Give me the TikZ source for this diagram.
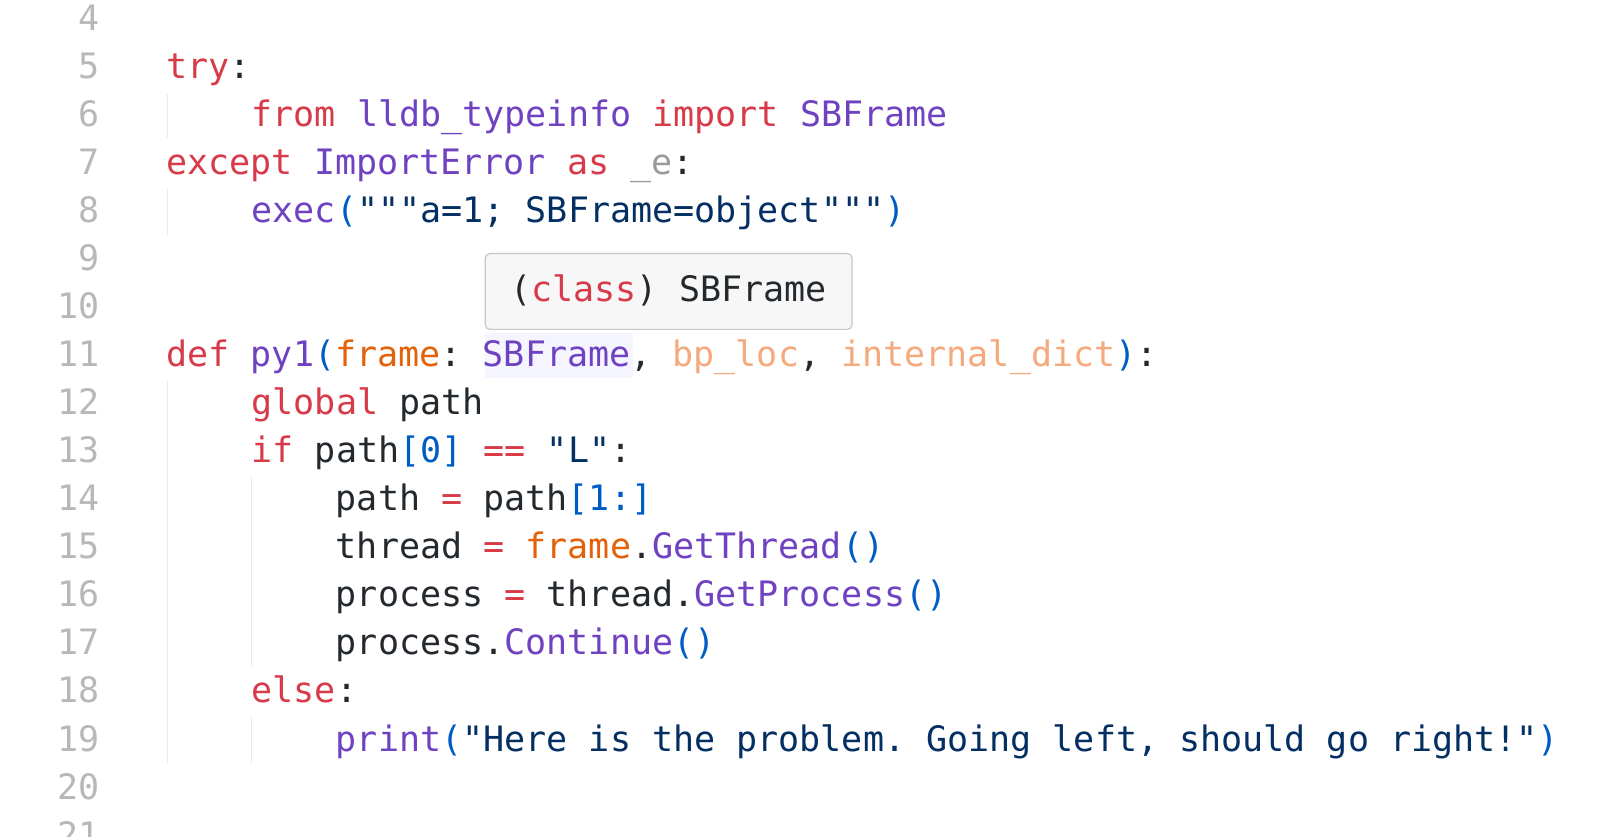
\documentclass[tikz,border=0pt]{standalone}
\usepackage{fontspec}
\setmonofont{DejaVu Sans Mono}
\definecolor{kw}{HTML}{D73A49}
\definecolor{pu}{HTML}{6F42C1}
\definecolor{bl}{HTML}{005CC5}
\definecolor{st}{HTML}{032F62}
\definecolor{orr}{HTML}{E36209}
\definecolor{lor}{HTML}{F4AA7C}
\definecolor{gy}{HTML}{9A9A9A}
\definecolor{tx}{HTML}{24292E}
\definecolor{ln}{HTML}{B8B8B8}
\newcommand{\ck}[1]{\textcolor{kw}{#1}}
\newcommand{\cpu}[1]{\textcolor{pu}{#1}}
\newcommand{\cbl}[1]{\textcolor{bl}{#1}}
\newcommand{\cst}[1]{\textcolor{st}{#1}}
\newcommand{\cor}[1]{\textcolor{orr}{#1}}
\newcommand{\clo}[1]{\textcolor{lor}{#1}}
\newcommand{\cgy}[1]{\textcolor{gy}{#1}}
\begin{document}
\begin{tikzpicture}[x=0.03117cm,y=-0.03117cm,
  code/.style={anchor=base west,inner sep=0pt,font=\ttfamily\fontsize{29.9}{31}\selectfont,text=tx},
  lnum/.style={anchor=base east,inner sep=0pt,font=\ttfamily\fontsize{29.9}{31}\selectfont,text=ln},
  guide/.style={draw=black!8,line width=1.2pt}]
\useasboundingbox[fill=white] (0,0) rectangle (1560,805.5);
\foreach \n in {4,...,21}{
  \pgfmathsetmacro{\yy}{18+46.25*(\n-4)+11}
  \node[lnum] (n\n) at (96,\yy) {\n};
}
% indent guides
\draw[guide] (161,90) -- (161,133);
\draw[guide] (161,182) -- (161,226);
\draw[guide] (161,366) -- (161,735);
\draw[guide] (242,458) -- (242,641);
\draw[guide] (242,689) -- (242,735);
% highlight behind SBFrame
\fill[blue!4] (467,320) rectangle (609,364);
\node[code] (l5) at (160,{18+46.25*1+11}) {\ck{try}:};
\node[code] (l6) at (242,{18+46.25*2+11}) {\ck{from} \cpu{lldb\_typeinfo} \ck{import} \cpu{SBFrame}};
\node[code] (l7) at (160,{18+46.25*3+11}) {\ck{except} \cpu{ImportError} \ck{as} \cgy{\_e}:};
\node[code] (l8) at (242,{18+46.25*4+11}) {\cpu{exec}\cbl{(}\cst{"""a=1; SBFrame=object"""}\cbl{)}};
\node[code] (l11) at (160,{18+46.25*7+11}) {\ck{def} \cpu{py1}\cbl{(}\cor{frame}: \cpu{SBFrame}, \clo{bp\_loc}, \clo{internal\_dict}\cbl{)}:};
\node[code] (l12) at (242,{18+46.25*8+11}) {\ck{global} path};
\node[code] (l13) at (242,{18+46.25*9+11}) {\ck{if} path\cbl{[0]} \ck{==} \cst{"L"}:};
\node[code] (l14) at (323,{18+46.25*10+11}) {path \ck{=} path\cbl{[1:]}};
\node[code] (l15) at (323,{18+46.25*11+11}) {thread \ck{=} \cor{frame}.\cpu{GetThread}\cbl{()}};
\node[code] (l16) at (323,{18+46.25*12+11}) {process \ck{=} thread.\cpu{GetProcess}\cbl{()}};
\node[code] (l17) at (323,{18+46.25*13+11}) {process.\cpu{Continue}\cbl{()}};
\node[code] (l18) at (242,{18+46.25*14+11}) {\ck{else}:};
\node[code] (l19) at (323,{18+46.25*15+11}) {\cpu{print}\cbl{(}\cst{"Here is the problem. Going left, should go right!"}\cbl{)}};
% tooltip
\draw[draw=black!22,fill=black!3,line width=1pt,rounded corners=4pt] (467,244) rectangle (820,317);
\node[code] (tip) at (491,{18+46.25*5+11+30}) {(\ck{class}) SBFrame};
\end{tikzpicture}
\end{document}
